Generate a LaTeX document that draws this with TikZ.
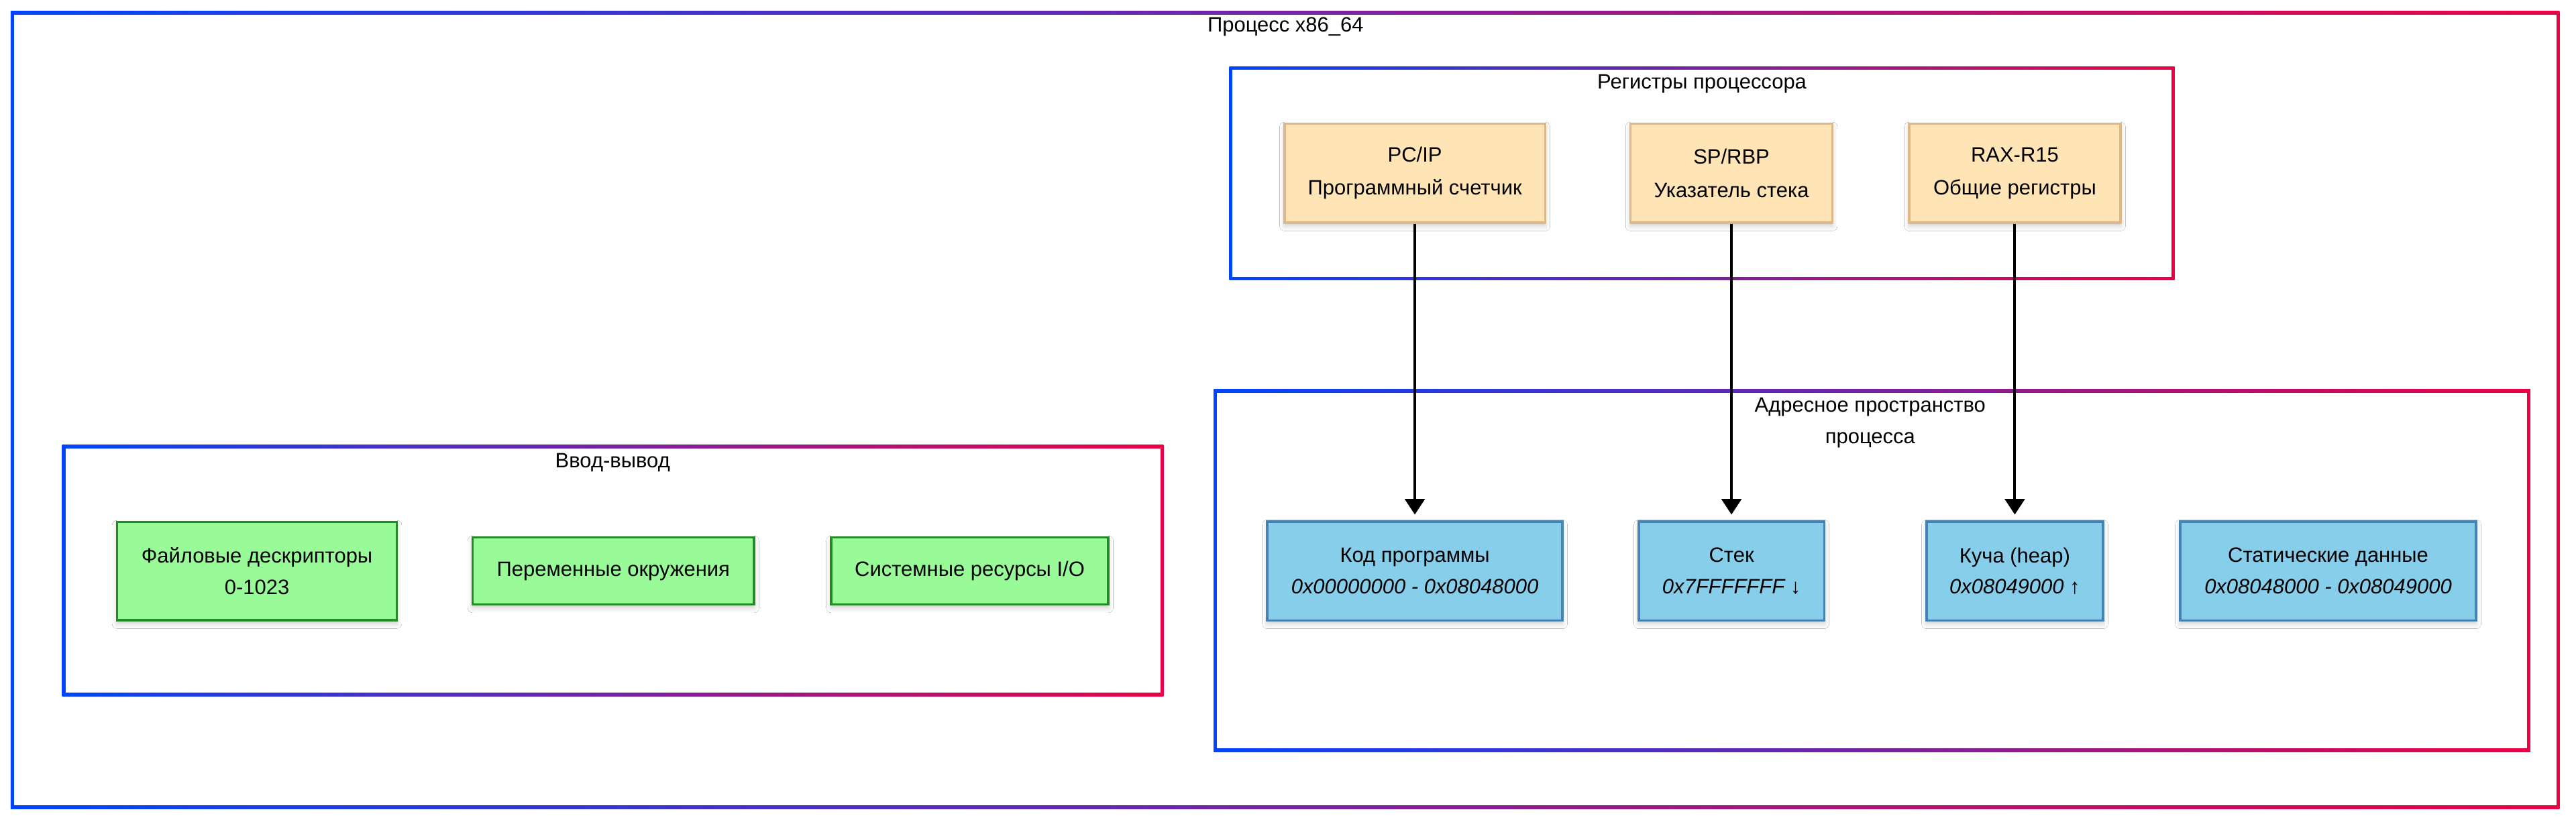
\documentclass[tikz,border=0pt]{standalone}
\usepackage{fontspec}
\setmainfont{Liberation Sans}
\usetikzlibrary{arrows.meta,shadows.blur}

\definecolor{gblue}{RGB}{0,68,255}
\definecolor{gred}{RGB}{238,0,68}
\definecolor{regfill}{HTML}{FFE4B5}
\definecolor{regline}{HTML}{DEB887}
\definecolor{memfill}{HTML}{87CEEB}
\definecolor{memline}{HTML}{4682B4}
\definecolor{iofill}{HTML}{98FB98}
\definecolor{ioline}{HTML}{228B22}

\tikzset{
  gradframe/.style={left color=gblue,right color=gred},
  box/.style={rectangle,line width=1.4pt,minimum height=60pt,align=center,inner sep=0pt,
    font=\fontsize{12.6}{20}\selectfont,
    blur shadow={shadow xshift=0pt,shadow yshift=-2pt,shadow blur radius=3pt,shadow opacity=20}},
  reg/.style={box,fill=regfill,draw=regline},
  mem/.style={box,fill=memfill,draw=memline,font=\fontsize{12.6}{19}\selectfont},
  io/.style={box,fill=iofill,draw=ioline,font=\fontsize{12.6}{19}\selectfont},
  boxtitle/.style={font=\fontsize{12.6}{19}\selectfont,align=center,inner sep=0pt},
  link/.style={-{Triangle[length=9.5pt,width=12pt]},line width=1.6pt,shorten >=3.5pt}
}

\begin{document}
\begin{tikzpicture}[x=1pt,y=-1pt]
\useasboundingbox (0,0) rectangle (1562,498.3);

%FRAMES
\shade[gradframe] (6.5,6.9) rectangle (1552,490.6);
\fill[white] (8.5,8.9) rectangle (1550,488.6);
\shade[gradframe] (745.4,40.3) rectangle (1318.6,169.9);
\fill[white] (747.4,42.3) rectangle (1316.6,167.9);
\shade[gradframe] (736,236.3) rectangle (1534.3,456);
\fill[white] (738,238.3) rectangle (1532.3,454);
\shade[gradframe] (37.7,270) rectangle (705.5,422.3);
\fill[white] (39.7,272) rectangle (703.5,420.3);

%TITLES
\node[boxtitle] (tproc) at (779.5,16.4) {Процесс x86\_64};
\node[boxtitle] (treg) at (1032,50.8) {Регистры процессора};
\node[boxtitle] (taddr) at (1134,256.5) {Адресное пространство\\процесса};
\node[boxtitle] (tio) at (371.5,280.7) {Ввод-вывод};

%NODE
\node[reg,minimum width=158pt] (pc) at (857.9,105.1) {PC/IP\\Программный счетчик};
\node[reg,minimum width=122.4pt] (sp) at (1049.9,105.1) {SP/RBP\\Указатель стека};
\node[reg,minimum width=128.2pt] (rax) at (1221.7,105.1) {RAX-R15\\Общие регистры};

\node[mem,minimum width=179pt] (code) at (857.9,346.4) {Код программы\\\textit{0x00000000 - 0x08048000}};
\node[mem,minimum width=112.4pt] (stack) at (1049.9,346.4) {Стек\\\textit{0x7FFFFFFF ↓}};
\node[mem,minimum width=107pt] (heap) at (1221.7,346.4) {Куча (heap)\\\textit{0x08049000 ↑}};
\node[mem,minimum width=179.4pt] (data) at (1411.7,346.4) {Статические данные\\\textit{0x08048000 - 0x08049000}};

\node[io,minimum width=169.6pt,minimum height=59.6pt] (fd) at (155.8,346.5) {Файловые дескрипторы\\0-1023};
\node[io,minimum width=170.6pt,minimum height=40.6pt] (env) at (371.9,346.4) {Переменные окружения};
\node[io,minimum width=168pt,minimum height=40.6pt] (sys) at (588,346.4) {Системные ресурсы I/O};

%EDGE
\draw[link] (pc) -- (code);
\draw[link] (sp) -- (stack);
\draw[link] (rax) -- (heap);
\end{tikzpicture}
\end{document}
